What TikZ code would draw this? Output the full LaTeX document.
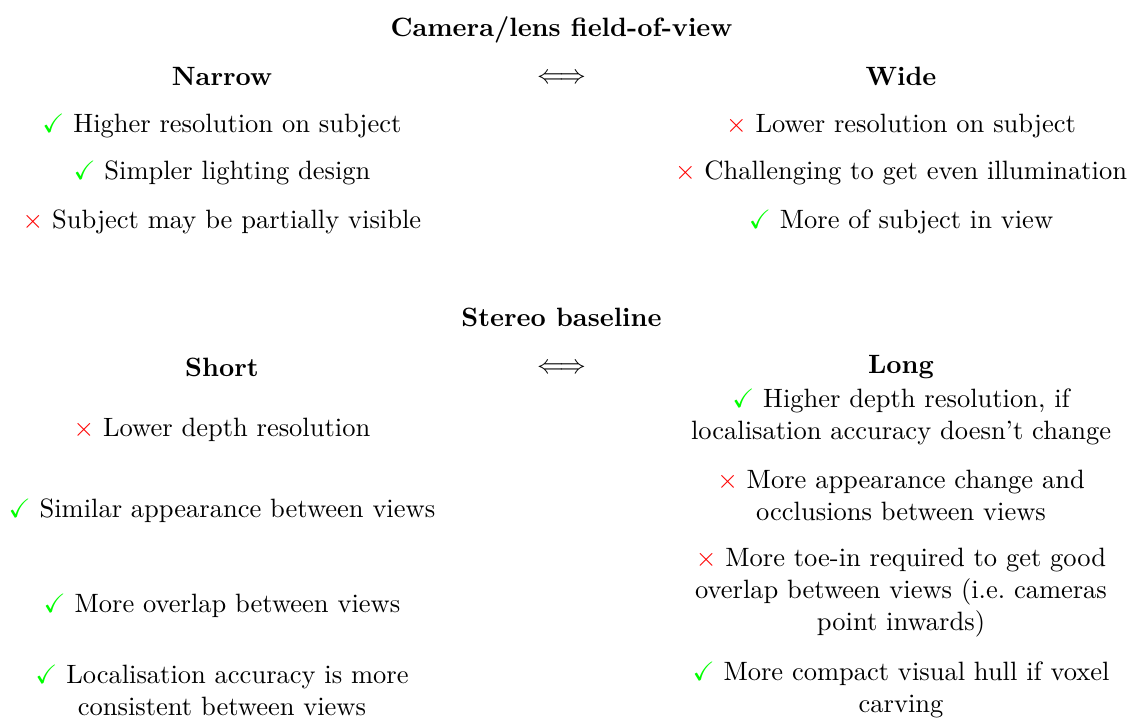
\documentclass[tikz,border=0pt]{standalone}
\usepackage{amssymb}

\newcommand{\pro}{\textcolor{green}{$\checkmark$}}
\newcommand{\contra}{\textcolor{red}{$\times$}}

\begin{document}
\begin{tikzpicture}[every node/.style={anchor=base, inner sep=0pt},
		head/.style={font=\bfseries},
		item/.style={align=center}]
		\useasboundingbox (-7.447,0) rectangle (7.553,-9.523);
		
		% Sichtfeld der Kamera
		\node[head] (fov) at (0,-0.485) {Camera/lens field-of-view};
		\node[head] (narrow) at (-4.503,-1.128) {Narrow};
		\node (fovarrow) at (0,-1.114) {$\Longleftrightarrow$};
		\node[head] (wide) at (4.503,-1.128) {Wide};
		
		% Vor- und Nachteile schmal
		\node[item] (narrowa) at (-4.503,-1.751) {\pro{} Higher resolution on subject};
		\node[item] (narrowb) at (-4.503,-2.387) {\pro{} Simpler lighting design};
		\node[item] (narrowc) at (-4.503,-3.024) {\contra{} Subject may be partially visible};
		
		% Vor- und Nachteile weit
		\node[item] (widea) at (4.503,-1.751) {\contra{} Lower resolution on subject};
		\node[item] (wideb) at (4.503,-2.387) {\contra{} Challenging to get even illumination};
		\node[item] (widec) at (4.503,-3.024) {\pro{} More of subject in view};
		
		% Stereobasis
		\node[head] (base) at (0,-4.324) {Stereo baseline};
		\node[head] (short) at (-4.503,-5.000) {Short};
		\node (basearrow) at (0,-4.960) {$\Longleftrightarrow$};
		\node[head] (long) at (4.503,-4.960) {Long};
		
		% kurze Basis
		\node[item] (shorta) at (-4.503,-5.795) {\contra{} Lower depth resolution};
		\node[item] (shortb) at (-4.503,-6.857) {\pro{} Similar appearance between views};
		\node[item] (shortc) at (-4.503,-8.117) {\pro{} More overlap between views};
		\node[item] (shortd) at (-4.503,-9.493) {\pro{} Localisation accuracy is more\\consistent between views};
		
		% lange Basis
		\node[item] (longa) at (4.503,-5.832) {\pro{} Higher depth resolution, if\\localisation accuracy doesn't change};
		\node[item] (longb) at (4.503,-6.907) {\contra{} More appearance change and\\occlusions between views};
		\node[item] (longc) at (4.503,-8.359) {\contra{} More toe-in required to get good\\overlap between views (i.e.\ cameras\\point inwards)};
		\node[item] (longd) at (4.503,-9.453) {\pro{} More compact visual hull if voxel\\carving};
	\end{tikzpicture}
\end{document}
